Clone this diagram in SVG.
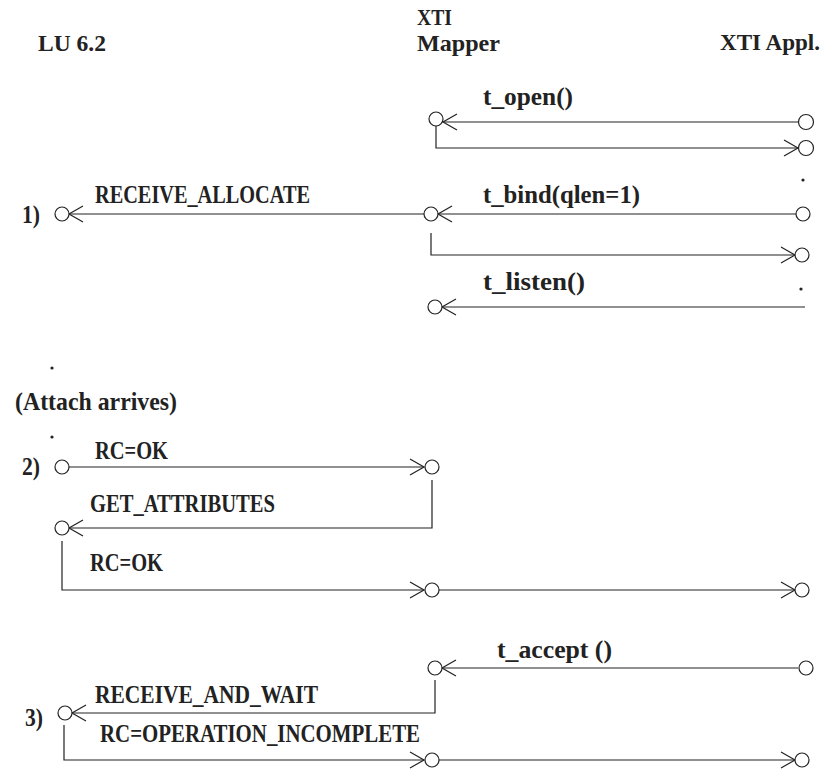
<svg xmlns="http://www.w3.org/2000/svg" width="827" height="772" viewBox="0 0 827 772">
<defs>
<marker id="arr" markerUnits="userSpaceOnUse" markerWidth="20" markerHeight="20" viewBox="-16 -10 20 20" refX="0" refY="0" orient="auto">
<path d="M-14,-8 L0,0 L-14,8" fill="none" stroke="#222" stroke-width="1.2"/>
</marker>
</defs>
<style>
text{font-family:"Liberation Serif","Times New Roman",serif;font-weight:bold;font-size:25px;fill:#222}
.h{font-size:23px}
.c{fill:#fff;stroke:#222;stroke-width:1.2}
.l{fill:none;stroke:#222;stroke-width:1.2}
.a{marker-end:url(#arr)}
.d{fill:#222}
</style>
<rect width="827" height="772" fill="#fff"/>
<g id="headers">
<text class="h" x="38" y="51" textLength="68" lengthAdjust="spacingAndGlyphs">LU 6.2</text>
<text class="h" x="417" y="25" textLength="35" lengthAdjust="spacingAndGlyphs">XTI</text>
<text class="h" x="417" y="51" textLength="83" lengthAdjust="spacingAndGlyphs">Mapper</text>
<text class="h" x="720" y="50" textLength="100" lengthAdjust="spacingAndGlyphs">XTI Appl.</text>
</g>
<g id="connectors">
<path class="l a" d="M798,122 H443"/>
<path class="l a" d="M436,126 V148 H798"/>
<path class="l a" d="M796,214 H438"/>
<path class="l a" d="M424,214 H69"/>
<path class="l a" d="M431,233 V255 H795"/>
<path class="l a" d="M805,307 H442"/>
<path class="l a" d="M69,467 H424"/>
<path class="l a" d="M432,480 V528 H69"/>
<path class="l a" d="M62,541 V590 H424"/>
<path class="l a" d="M439,590 H795"/>
<path class="l a" d="M798,668 H442"/>
<path class="l a" d="M435,680 V713 H72"/>
<path class="l a" d="M64,725 V760 H424"/>
<path class="l a" d="M439,760 H795"/>
</g>
<g id="step0">
<circle class="c" cx="436" cy="119" r="7"/>
<circle class="c" cx="806" cy="122" r="7.5"/>
<circle class="c" cx="806" cy="148" r="7.5"/>
<text x="483" y="105" textLength="90" lengthAdjust="spacingAndGlyphs">t_open()</text>
<circle class="d" cx="803" cy="180" r="1.6"/>
</g>
<g id="step1">
<text x="22" y="223" textLength="18" lengthAdjust="spacingAndGlyphs">1)</text>
<circle class="c" cx="62" cy="214" r="7"/>
<text x="95" y="203" textLength="215" lengthAdjust="spacingAndGlyphs">RECEIVE_ALLOCATE</text>
<circle class="c" cx="431" cy="214" r="7"/>
<text x="483" y="203" textLength="157" lengthAdjust="spacingAndGlyphs">t_bind(qlen=1)</text>
<circle class="c" cx="803" cy="214" r="7"/>
<circle class="c" cx="802" cy="255" r="7"/>
<text x="483" y="290" textLength="102" lengthAdjust="spacingAndGlyphs">t_listen()</text>
<circle class="d" cx="801" cy="289" r="1.6"/>
<circle class="c" cx="435" cy="307" r="7"/>
</g>
<g id="attach">
<circle class="d" cx="52" cy="368" r="1.6"/>
<text x="15" y="410" textLength="162" lengthAdjust="spacingAndGlyphs">(Attach arrives)</text>
<circle class="d" cx="52" cy="437" r="1.6"/>
</g>
<g id="step2">
<text x="22" y="475" textLength="18" lengthAdjust="spacingAndGlyphs">2)</text>
<text x="95" y="459" textLength="73" lengthAdjust="spacingAndGlyphs">RC=OK</text>
<circle class="c" cx="62" cy="467" r="7"/>
<circle class="c" cx="432" cy="467" r="7"/>
<text x="90" y="512" textLength="185" lengthAdjust="spacingAndGlyphs">GET_ATTRIBUTES</text>
<circle class="c" cx="62" cy="528" r="7"/>
<text x="90" y="571" textLength="73" lengthAdjust="spacingAndGlyphs">RC=OK</text>
<circle class="c" cx="432" cy="590" r="7"/>
<circle class="c" cx="802" cy="590" r="7"/>
</g>
<g id="step3">
<text x="497" y="658" textLength="115" lengthAdjust="spacingAndGlyphs">t_accept ()</text>
<circle class="c" cx="435" cy="668" r="7"/>
<circle class="c" cx="806" cy="668" r="7"/>
<text x="95" y="703" textLength="223" lengthAdjust="spacingAndGlyphs">RECEIVE_AND_WAIT</text>
<text x="25" y="726" textLength="18" lengthAdjust="spacingAndGlyphs">3)</text>
<circle class="c" cx="65" cy="713" r="7"/>
<text x="100" y="742" textLength="320" lengthAdjust="spacingAndGlyphs">RC=OPERATION_INCOMPLETE</text>
<circle class="c" cx="432" cy="760" r="7"/>
<circle class="c" cx="802" cy="760" r="7"/>
</g>
</svg>
